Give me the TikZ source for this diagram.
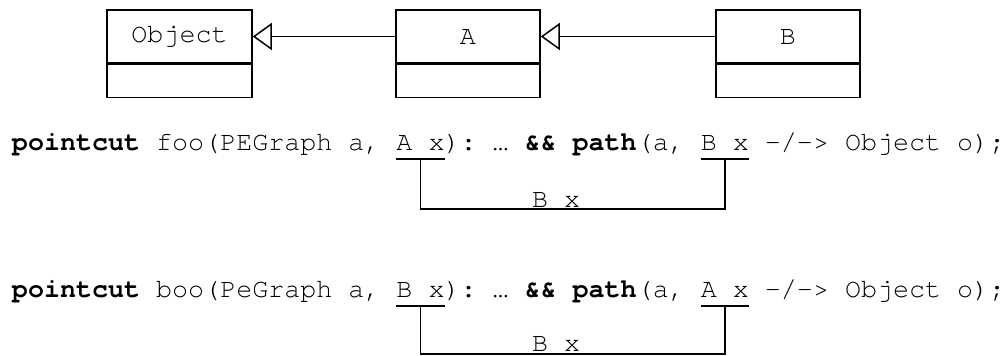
\documentclass[tikz,border=0pt]{standalone}
\usepackage{fontspec}
\newfontfamily\codefont{TeX Gyre Cursor}
\usetikzlibrary{arrows.meta,positioning}
\newcommand\sk{\phantom{x}}
\begin{document}
\begin{tikzpicture}[x=1pt,y=-1pt,
  txt/.style={font=\codefont\fontsize{26.7}{30}\selectfont},
  seg/.style={txt,inner sep=0pt,outer sep=0pt,anchor=base west},
  namebox/.style={draw,line width=1.5pt,txt,minimum height=53pt,inner sep=0pt},
  bodybox/.style={draw,line width=1.5pt,minimum height=33pt,inner sep=0pt},
  gen/.style={line width=1.5pt,-{Triangle[open,length=19pt,width=27pt,fill=white]}},
  br/.style={line width=1.5pt}]
\useasboundingbox (0,0) rectangle (1005,356);
% classes
\node[namebox,minimum width=145pt] (obj) at (179.5,36.5) {Object};
\node[bodybox,minimum width=145pt,below=0pt of obj] (objb) {};
\node[namebox,minimum width=144pt] (a) at (468,36.5) {A};
\node[bodybox,minimum width=144pt,below=0pt of a] (ab) {};
\node[namebox,minimum width=144pt] (b) at (788,36.5) {B};
\node[bodybox,minimum width=144pt,below=0pt of b] (bb) {};
\draw[gen] (a.west) -- (obj.east);
\draw[gen] (b.west) -- (a.east);
% line 1
\node[seg] (p1) at (12,150) {\bfseries pointcut};
\node[seg] (p2) at (p1.base east) {\sk foo(PEGraph a,\sk};
\node[seg] (p3) at (p2.base east) {A x};
\node[seg] (p4) at (p3.base east) {):\sk…\sk\textbf{\&\&}\sk\textbf{path}(a,\sk};
\node[seg] (p5) at (p4.base east) {B x};
\node[seg] (p6) at (p5.base east) {\sk-/->\sk Object o);};
\draw[br] ([yshift=-9pt]p3.base west) -- ([yshift=-9pt]p3.base east);
\draw[br] ([yshift=-9pt]p5.base west) -- ([yshift=-9pt]p5.base east);
\node[seg] (l1) at (532,207) {B x};
\draw[br] ([yshift=-9pt]p3.base) -- ([yshift=-59pt]p3.base) -| ([yshift=-9pt]p5.base);
% line 2
\node[seg] (q1) at (12,297) {\bfseries pointcut};
\node[seg] (q2) at (q1.base east) {\sk boo(PeGraph a,\sk};
\node[seg] (q3) at (q2.base east) {B x};
\node[seg] (q4) at (q3.base east) {):\sk…\sk\textbf{\&\&}\sk\textbf{path}(a,\sk};
\node[seg] (q5) at (q4.base east) {A x};
\node[seg] (q6) at (q5.base east) {\sk-/->\sk Object o);};
\draw[br] ([yshift=-9pt]q3.base west) -- ([yshift=-9pt]q3.base east);
\draw[br] ([yshift=-9pt]q5.base west) -- ([yshift=-9pt]q5.base east);
\node[seg] (l2) at (532,351) {B x};
\draw[br] ([yshift=-9pt]q3.base) -- ([yshift=-57pt]q3.base) -| ([yshift=-9pt]q5.base);
\end{tikzpicture}
\end{document}
